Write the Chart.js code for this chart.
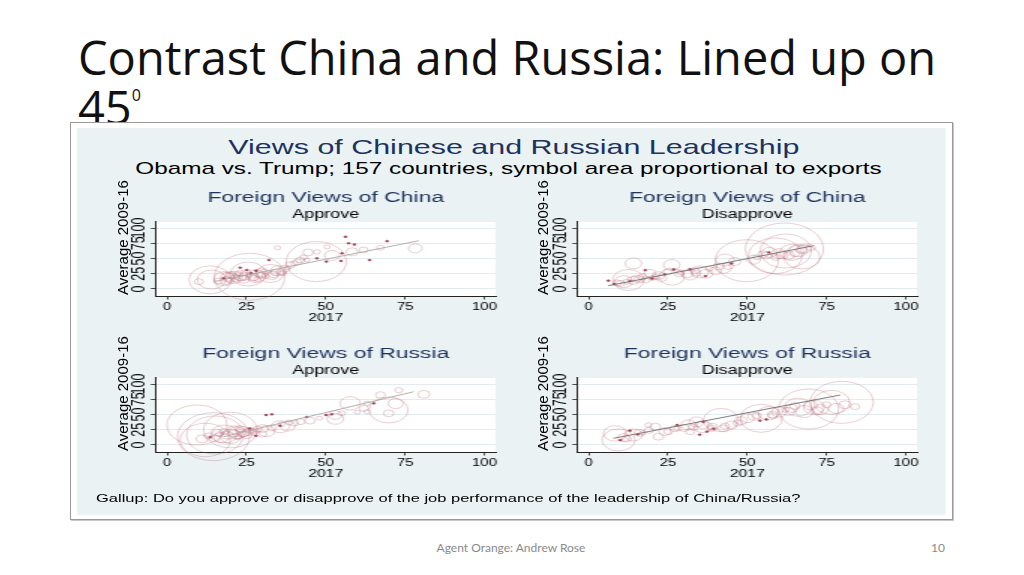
<!DOCTYPE html>
<html>
<head>
<meta charset="utf-8">
<script src="https://cdn.jsdelivr.net/npm/chart.js@4.4.1/dist/chart.umd.min.js"></script>
<style>
  html, body { margin: 0; padding: 0; background: #fff; }
  #slide { position: relative; width: 1024px; height: 575px; overflow: hidden; }
  #title { position: absolute; left: 78px; top: 31.8px; font-family: "Open Sans", sans-serif; font-size: 47px; line-height: 50px; color: #111; white-space: nowrap; }
  #title .deg { font-size: 16px; position: relative; top: -24px; }
  #frame { position: absolute; left: 70px; top: 122px; width: 881px; height: 396px; border: 1px solid #999; background: #fff; box-shadow: 1px 1px 0 #c8c8c8; }
  #fig { position: absolute; left: 77px; top: 128px; width: 579.33px; height: 387px; background: rgb(234,242,243); transform: scaleX(1.5); transform-origin: 0 0; font-family: "Liberation Sans", Arial, sans-serif; }
  #figTitle { position: absolute; left: 1.6px; width: 100%; top: 8.6px; text-align: center; font-size: 20.3px; line-height: 20px; color: rgb(30,50,95); white-space: nowrap; }
  #figSub { position: absolute; left: -2px; width: 100%; top: 32.4px; text-align: center; font-size: 16.2px; line-height: 16px; color: #000; white-space: nowrap; }
  #note { position: absolute; left: 12.7px; top: 364px; font-size: 11px; line-height: 12px; color: #000; white-space: nowrap; }
  .panel { position: absolute; }
  .ytitle { position: absolute; font-family: "Liberation Sans", Arial, sans-serif; font-size: 15px; line-height: 15px; color: #000; white-space: nowrap; transform: rotate(-90deg); transform-origin: 0 0; }
  #footer { position: absolute; left: 0; width: 1022px; top: 541px; text-align: center; font-family: Lato, sans-serif; font-size: 12px; line-height: 14px; color: #8a8a8a; }
  #pageNo { position: absolute; right: 79px; top: 541px; font-family: Lato, sans-serif; font-size: 12px; line-height: 14px; color: #8a8a8a; }
</style>
</head>
<body>
<div id="slide">
  <div id="title">Contrast China and Russia: Lined up on<br>45<span class="deg">0</span></div>
  <div id="frame"></div>
  <div id="fig">
    <div id="figTitle">Views of Chinese and Russian Leadership</div>
    <div id="figSub">Obama vs. Trump; 157 countries, symbol area proportional to exports</div>
    <canvas id="p1" class="panel" width="269" height="160" style="left:20px;top:40px;"></canvas>
    <canvas id="p2" class="panel" width="269" height="160" style="left:300.6px;top:40px;"></canvas>
    <canvas id="p3" class="panel" width="269" height="160" style="left:20px;top:196px;"></canvas>
    <canvas id="p4" class="panel" width="269" height="160" style="left:300.6px;top:196px;"></canvas>
    <div id="note">Gallup: Do you approve or disapprove of the job performance of the leadership of China/Russia?</div>
  </div>
  <div class="ytitle" style="left:114.7px;top:295px;">Average 2009-16</div>
  <div class="ytitle" style="left:534.7px;top:295px;">Average 2009-16</div>
  <div class="ytitle" style="left:114.7px;top:451px;">Average 2009-16</div>
  <div class="ytitle" style="left:534.7px;top:451px;">Average 2009-16</div>
  <div id="footer">Agent Orange: Andrew Rose</div>
  <div id="pageNo">10</div>
</div>
<script>
const xTicks = [0, 25, 50, 75, 100];
const yTicks = [0, 25, 50, 75, 100];
const panelTitles = ["Foreign Views of China", "Foreign Views of China", "Foreign Views of Russia", "Foreign Views of Russia"];
const panelSubtitles = ["Approve", "Disapprove", "Approve", "Disapprove"];
const xTitle = "2017";

// China, approve
const chinaApproveX = [26, 47, 13.5, 14, 25.5, 32.5, 18, 21, 23, 28, 30, 24, 20, 27, 22, 29, 35, 37, 38.8, 41.9, 44.4, 47.2, 50.4, 44, 40, 34.8, 58.3, 61.9, 67.2, 78.2, 69.3, 63.8, 57.2, 56.2, 59, 55.1, 54.8, 50.2, 47.2, 32.1, 25.1, 23, 17.8, 26.5, 28, 52, 43, 33, 19, 36, 10,
    16, 19.5, 21.5, 23.5, 24.5, 26, 27.5, 29.5, 31, 33.5, 34, 36.5, 22.5, 25, 28.5, 30.5, 20.5, 18.5, 38, 41];
const chinaApproveY = [20, 45, 15, 15.5, 24.5, 25.5, 17, 19, 22, 21, 27, 16, 23, 18, 20, 24, 30, 33, 39.3, 47.5, 60, 61, 69, 47.5, 42, 67.7, 61, 64, 67.7, 66.7, 78.5, 47.5, 75, 85.7, 73, 58.5, 46, 45, 50.3, 47.5, 31, 35, 17.5, 26, 30, 55, 52, 22, 20, 28, 12,
    13, 15, 17.5, 18, 21, 23, 19.5, 22, 21, 24, 27, 26, 25, 27.5, 16, 29, 21.5, 14, 35, 44];
const chinaApproveExports = [552, 400, 196, 90, 144, 81, 49, 36, 25, 42, 20, 16, 12, 9, 6, 9, 25, 12, 11, 9, 12, 5, 4, 4, 6, 4, 16, 9, 6, 20, 0.8, 0.8, 0.8, 0.8, 0.8, 0.8, 0.8, 0.8, 0.8, 0.8, 0.8, 0.8, 0.8, 0.8, 0.8, 25, 6, 16, 20, 9, 9,
    9, 6, 12, 9, 16, 6, 12, 9, 6, 12, 9, 6, 4, 9, 6, 4, 9, 16, 4, 9];
const chinaApproveLineX = [14.6, 79.3];
const chinaApproveLineY = [12, 79.2];

// China, disapprove
const chinaDisapproveX = [61.7, 49.8, 58.8, 62.1, 67.2, 64, 66, 68, 60, 63, 56, 70, 43, 42.5, 40, 44, 35, 32, 37, 33.5, 26.2, 26.2, 22, 19.3, 17, 14.1, 12.5, 11, 14, 9, 16, 20, 28.5, 6.2, 17.8, 20, 31.9, 36.8, 56.8, 26.8, 8, 13, 45, 53, 24,
    10, 12, 15, 18, 21, 23, 25, 29, 31, 34, 38, 41, 46, 52, 55, 57, 59, 61, 65, 67];
const chinaDisapproveY = [65.6, 46.4, 54.6, 62.3, 52.5, 60, 63, 66, 58, 55, 55, 68, 47.5, 34, 30, 38, 28, 23, 25, 30, 39.3, 20.2, 22, 25.7, 20, 42, 14.8, 12, 14, 10, 16, 18, 25, 13.7, 31, 17, 32.6, 21.2, 60.1, 32, 8, 13, 42, 52, 24,
    9, 12, 17, 15, 20, 18, 28, 27, 25, 26, 33, 37, 45, 48, 57, 60, 52, 56, 58, 64];
const chinaDisapproveExports = [676, 441, 317, 289, 144, 64, 36, 20, 25, 16, 12, 9, 36, 25, 16, 12, 36, 25, 20, 9, 30, 71, 16, 16, 9, 30, 110, 36, 16, 9, 12, 6, 9, 0.8, 0.8, 0.8, 0.8, 0.8, 0.8, 0.8, 0.8, 0.8, 0.8, 6, 0.8,
    9, 6, 12, 9, 6, 12, 9, 6, 16, 9, 6, 12, 16, 20, 12, 25, 9, 16, 9, 12];
const chinaDisapproveLineX = [6.2, 70.9];
const chinaDisapproveLineY = [5.4, 71];

// Russia, approve
const russiaApproveX = [14.6, 9.4, 12, 15.1, 19.9, 18, 20, 22, 24, 17, 25, 21, 16, 23, 26, 31.4, 35.6, 38, 42, 53, 53, 57.7, 63, 63, 69.8, 69.8, 67.2, 73, 80.9, 65.1, 31.2, 33, 50.1, 51.9, 44, 35.6, 13.5, 28, 26, 38.5, 27, 60, 48, 22, 30,
    11, 13, 15, 16.5, 18, 19, 21, 22.5, 24, 25.5, 27, 28.5, 30, 33, 36, 40, 45, 55, 62, 72];
const russiaApproveY = [13.7, 32.8, 8.2, 16.4, 24.6, 18, 14, 20, 22, 12, 17, 25, 20, 27, 24, 23, 30, 31, 38.3, 49.2, 43, 68.3, 68.3, 54.6, 57.4, 52, 82, 90, 83.1, 68.3, 49.2, 50.3, 49.2, 50.3, 46, 31.7, 13, 15, 27, 37, 20, 54, 44, 12, 18,
    10, 15, 11, 18, 22, 16, 19, 14, 18, 21, 23, 26, 27, 28, 34, 36, 40, 52, 60, 68];
const russiaApproveExports = [576, 400, 279, 361, 317, 81, 49, 36, 25, 25, 16, 16, 12, 9, 9, 30, 36, 25, 9, 19, 30, 45, 5, 4, 169, 12, 11, 7, 16, 0.8, 0.8, 0.8, 0.8, 0.8, 0.8, 0.8, 0.8, 0.8, 0.8, 6, 6, 4, 4, 4, 9,
    16, 9, 12, 6, 9, 16, 12, 6, 9, 12, 6, 9, 16, 9, 6, 9, 12, 6, 9, 25];
const russiaApproveLineX = [17.8, 77.7];
const russiaApproveLineY = [13.6, 87.4];

// Russia, disapprove
const russiaDisapproveX = [79.8, 69.3, 76.6, 54.4, 41.7, 66, 71, 73, 68, 80.8, 64, 56.7, 52, 58, 9.4, 8.3, 14.1, 11, 18.8, 21, 22, 25.1, 31.5, 34, 32, 38.8, 42.5, 45, 36, 47, 27.9, 36.1, 13, 15.5, 35, 37.3, 39.4, 54, 56, 10, 62, 75, 84, 28, 17,
    12, 16, 19, 24, 27, 30, 33, 36, 39, 43, 48, 50, 53, 58, 60, 63, 65, 70, 72, 78];
const russiaDisapproveY = [70, 59, 70, 43.8, 41, 62, 62, 58, 55, 66, 60, 52, 47, 48, 8.2, 19, 16.4, 12, 32.8, 30, 13.7, 22, 33, 38, 22, 27.3, 27.3, 33, 30, 36, 32.8, 38, 23.5, 17.5, 17, 22, 27, 40, 42, 8, 58, 66, 63, 27, 20,
    10, 20, 24, 22, 27, 28, 29, 33, 30, 31, 40, 44, 48, 50, 54, 55, 64, 65, 56, 60];
const russiaDisapproveExports = [441, 400, 144, 196, 135, 81, 49, 25, 36, 16, 16, 45, 16, 9, 121, 59, 36, 16, 5, 12, 12, 9, 25, 25, 9, 9, 12, 16, 36, 9, 0.8, 0.8, 0.8, 0.8, 0.8, 0.8, 0.8, 0.8, 0.8, 0.8, 6, 9, 9, 6, 4,
    9, 12, 9, 16, 9, 12, 9, 16, 12, 9, 16, 20, 9, 12, 25, 16, 12, 20, 16, 25];
const russiaDisapproveLineX = [7.8, 79.3];
const russiaDisapproveLineY = [11, 82];

Chart.defaults.font.family = '"Liberation Sans", Arial, sans-serif';

const navy = "rgb(30,50,95)";

// white plot region like Stata's
const plotBg = {
    id: "plotBg",
    beforeDraw(chart) {
        const { ctx, chartArea: a } = chart;
        ctx.save();
        ctx.fillStyle = "#fff";
        ctx.fillRect(a.left, a.top, a.right - a.left, a.bottom - a.top);
        ctx.restore();
    }
};

function makePanel(id, idx, xs, ys, sizes, lineX, lineY, lineColor) {
    const bubbles = xs.map((x, i) => ({ x: x, y: ys[i], r: Math.sqrt(sizes[i]) }));
    const line = lineX.map((x, i) => ({ x: x, y: lineY[i] }));

    new Chart(document.getElementById(id), {
        type: "bubble",
        data: {
            datasets: [
                {
                    type: "line",
                    data: line,
                    borderColor: lineColor,
                    borderWidth: 0.9,
                    pointRadius: 0,
                    fill: false,
                    order: 0
                },
                {
                    data: bubbles,
                    borderColor: ctx => (ctx.raw && ctx.raw.r < 1.5) ? "rgba(150,30,55,0.9)" : "rgba(180,95,110,0.5)",
                    backgroundColor: ctx => (ctx.raw && ctx.raw.r < 1.5) ? "rgba(150,30,55,0.8)" : "rgba(0,0,0,0)",
                    borderWidth: 0.6,
                    clip: false,
                    order: 1
                }
            ]
        },
        options: {
            responsive: false,
            animation: false,
            events: [],
            layout: { autoPadding: false, padding: { left: 0, right: 10, top: 0, bottom: 0 } },
            plugins: {
                legend: { display: false },
                tooltip: { enabled: false },
                title: {
                    display: true,
                    text: panelTitles[idx],
                    color: navy,
                    fullSize: false,
                    font: { size: 15.3, weight: "normal" },
                    padding: { top: 21, bottom: 0 }
                },
                subtitle: {
                    display: true,
                    text: panelSubtitles[idx],
                    color: "#000",
                    fullSize: false,
                    font: { size: 12 },
                    padding: { top: 0, bottom: 0.2 }
                }
            },
            scales: {
                x: {
                    type: "linear",
                    min: -3.5,
                    max: 103.5,
                    afterBuildTicks: s => { s.ticks = xTicks.map(v => ({ value: v })); },
                    afterFit: s => { s.height = 32; },
                    grid: { drawOnChartArea: false, tickLength: 3.5, tickColor: "#222", tickWidth: 0.8 },
                    border: { color: "#222", width: 1 },
                    ticks: { color: "#000", font: { size: 10 }, padding: 2, maxRotation: 0, autoSkip: false },
                    title: { display: true, text: xTitle, color: "#000", font: { size: 10.5 }, padding: { top: 0, bottom: 3.7 } }
                },
                y: {
                    type: "linear",
                    min: -11.5,
                    max: 110,
                    afterBuildTicks: s => { s.ticks = yTicks.map(v => ({ value: v })); },
                    afterFit: s => { s.width = 32.7; },
                    grid: { color: "rgb(226,236,238)", lineWidth: 1, tickLength: 3.5, tickColor: "#222", tickWidth: 0.8 },
                    border: { color: "#222", width: 1 },
                    ticks: { color: "#000", font: { size: 12.5 }, minRotation: 90, maxRotation: 90, crossAlign: "center", padding: -3, autoSkip: false }
                }
            }
        },
        plugins: [plotBg]
    });
}

makePanel("p1", 0, chinaApproveX, chinaApproveY, chinaApproveExports, chinaApproveLineX, chinaApproveLineY, "#a8a8a8");
makePanel("p2", 1, chinaDisapproveX, chinaDisapproveY, chinaDisapproveExports, chinaDisapproveLineX, chinaDisapproveLineY, "#6e6e6e");
makePanel("p3", 2, russiaApproveX, russiaApproveY, russiaApproveExports, russiaApproveLineX, russiaApproveLineY, "#a8a8a8");
makePanel("p4", 3, russiaDisapproveX, russiaDisapproveY, russiaDisapproveExports, russiaDisapproveLineX, russiaDisapproveLineY, "#6e6e6e");
</script>
</body>
</html>
